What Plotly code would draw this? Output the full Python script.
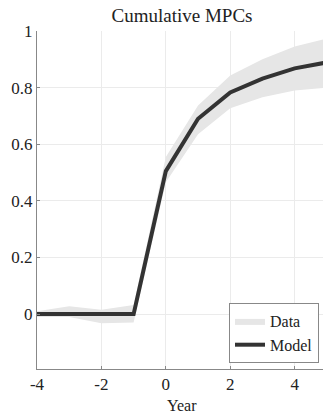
import plotly.graph_objects as go

years = [-4, -3, -2, -1, 0, 1, 2, 3, 4, 5]
model = [0.0, 0.0, 0.0, 0.0, 0.505, 0.69, 0.783, 0.832, 0.868, 0.889]
data_upper = [0.01, 0.028, 0.015, 0.032, 0.555, 0.737, 0.843, 0.9, 0.945, 0.973]
data_lower = [-0.01, -0.01, -0.032, -0.03, 0.466, 0.635, 0.727, 0.766, 0.79, 0.8]
x_ticks = [-4, -2, 0, 2, 4]
x_ticklabels = ["-4", "-2", "0", "2", "4"]
y_ticks = [0, 0.2, 0.4, 0.6, 0.8, 1]
y_ticklabels = ["0", "0.2", "0.4", "0.6", "0.8", "1"]

FONT = "Liberation Serif"
TXT = "#222222"

fig = go.Figure()
fig.add_trace(go.Scatter(x=years, y=data_lower, mode="lines", line=dict(width=0, color="#e6e6e6"),
                         showlegend=False, hoverinfo="skip"))
fig.add_trace(go.Scatter(x=years, y=data_upper, mode="lines", line=dict(width=0, color="#e6e6e6"),
                         fill="tonexty", fillcolor="#e6e6e6", name="Data"))
fig.add_trace(go.Scatter(x=years, y=model, mode="lines", line=dict(width=4, color="#333333"),
                         name="Model"))

fig.update_layout(
    width=323, height=413,
    margin=dict(l=37, r=0, t=31, b=44),
    paper_bgcolor="white", plot_bgcolor="white",
    font=dict(family=FONT, size=17, color=TXT),
    title=dict(text="Cumulative MPCs", x=182 / 323, xanchor="center", y=1 - 15 / 413, yanchor="middle",
               font=dict(family=FONT, size=19, color=TXT)),
    legend=dict(x=(319 - 37) / 286, xanchor="right", y=(369 - 363) / 338, yanchor="bottom",
                bgcolor="white", bordercolor="#888888", borderwidth=1,
                font=dict(family=FONT, size=16, color=TXT),
                traceorder="normal", tracegroupgap=0, itemwidth=30),
    showlegend=True,
    annotations=[dict(text="Year", x=(182 - 37) / 286, y=(369 - 405) / 338, xref="paper", yref="paper",
                      xanchor="center", yanchor="middle", showarrow=False,
                      font=dict(family=FONT, size=16, color=TXT))],
)
fig.update_xaxes(range=[-4, 4.88], tickvals=x_ticks, ticktext=x_ticklabels,
                 tickfont=dict(family=FONT, size=17, color=TXT),
                 showgrid=True, gridcolor="#ebebeb", zeroline=False,
                 showline=True, linecolor="#888888", linewidth=1,
                 ticks="inside", ticklen=3, tickcolor="#888888")
fig.update_yaxes(range=[-0.194, 1.0], tickvals=y_ticks, ticktext=y_ticklabels,
                 tickfont=dict(family=FONT, size=17, color=TXT),
                 showgrid=True, gridcolor="#ebebeb", zeroline=False,
                 showline=True, linecolor="#888888", linewidth=1,
                 ticks="inside", ticklen=3, tickcolor="#888888")

fig.write_html("out.html", config={"displayModeBar": False},
               post_script="document.body.style.margin='0';document.body.style.padding='0';")
